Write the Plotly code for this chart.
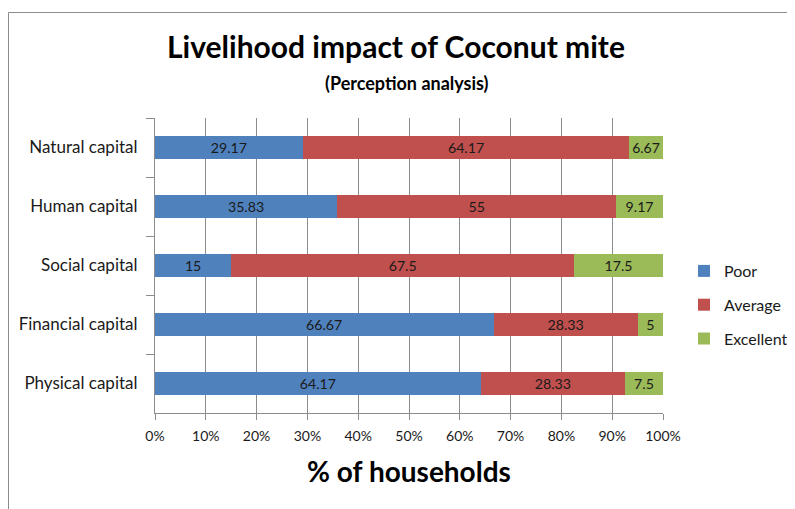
import plotly.graph_objects as go

categories = ["Natural capital", "Human capital", "Social capital", "Financial capital", "Physical capital"]
poor = [29.17, 35.83, 15, 66.67, 64.17]
average = [64.17, 55, 67.5, 28.33, 28.33]
excellent = [6.67, 9.17, 17.5, 5, 7.5]
tick_vals = [0, 10, 20, 30, 40, 50, 60, 70, 80, 90, 100]
tick_text = [f"{v}%" for v in tick_vals]

FONT = "Lato"
OFF = 8  # default page body margin
W, H = 795 - OFF, 509 - OFF
L, R, T, B = 155 - OFF, 132, 118 - OFF, 96
PW = W - L - R
PH = H - T - B

def px_x(px):
    return (px - OFF - L) / PW

def px_y(py):
    return (H - B - (py - OFF)) / PH

series = [("Poor", poor, "#4F81BD"), ("Average", average, "#C0504D"), ("Excellent", excellent, "#9BBB59")]

fig = go.Figure()
for name, vals, color in series:
    fig.add_trace(go.Bar(
        y=categories, x=vals, name=name, orientation="h",
        marker=dict(color=color, line=dict(width=0)),
        text=[f"{v:g}" for v in vals], textposition="inside",
        insidetextanchor="middle", textangle=0,
        textfont=dict(family=FONT, size=15, color="#1a1a1a"),
        legendgroup=name, hoverinfo="skip",
    ))

fig.update_layout(
    width=W, height=H,
    barmode="stack", bargap=0.61,
    plot_bgcolor="white", paper_bgcolor="white",
    margin=dict(l=L, r=R, t=T, b=B, autoexpand=False),
    font=dict(family=FONT, color="#1a1a1a"),
    legend=dict(
        x=px_x(684), xanchor="left", y=px_y(305), yanchor="middle",
        font=dict(family=FONT, size=16, color="#1a1a1a"),
        traceorder="grouped", tracegroupgap=10,
        bgcolor="rgba(0,0,0,0)",
    ),
    xaxis=dict(
        range=[0, 100], tickvals=tick_vals, ticktext=tick_text,
        showgrid=True, gridcolor="#8c8c8c", gridwidth=1,
        showline=True, linecolor="#8c8c8c", ticks="outside", ticklen=6, tickcolor="#8c8c8c",
        ticklabelstandoff=4,
        tickfont=dict(family=FONT, size=14, color="#1a1a1a"),
        title=dict(text="<b>% of households</b>", font=dict(family=FONT, size=28, color="black"), standoff=19),
        zeroline=False, fixedrange=True, automargin=False,
    ),
    yaxis=dict(
        autorange="reversed", showline=True, linecolor="#8c8c8c",
        ticks="outside", ticklen=8, tickcolor="#8c8c8c", tickson="boundaries",
        tickfont=dict(family=FONT, size=17, color="#1a1a1a"),
        ticksuffix="   ",
        showgrid=False, fixedrange=True, automargin=False,
    ),
    annotations=[
        dict(text="<b>Livelihood impact of Coconut mite</b>", xref="paper", yref="paper",
             x=px_x(396), y=px_y(46), xanchor="center", yanchor="middle", showarrow=False,
             font=dict(family=FONT, size=30, color="black")),
        dict(text="<b>(Perception analysis)</b>", xref="paper", yref="paper",
             x=px_x(407), y=px_y(83), xanchor="center", yanchor="middle", showarrow=False,
             font=dict(family=FONT, size=18, color="black")),
    ],
    shapes=[dict(type="rect", xref="paper", yref="paper",
                 x0=px_x(8.5), x1=1.6, y0=-0.6, y1=px_y(12.5),
                 line=dict(color="#8c8c8c", width=1), fillcolor="rgba(0,0,0,0)", layer="below")],
)

fig.write_html("out.html")
